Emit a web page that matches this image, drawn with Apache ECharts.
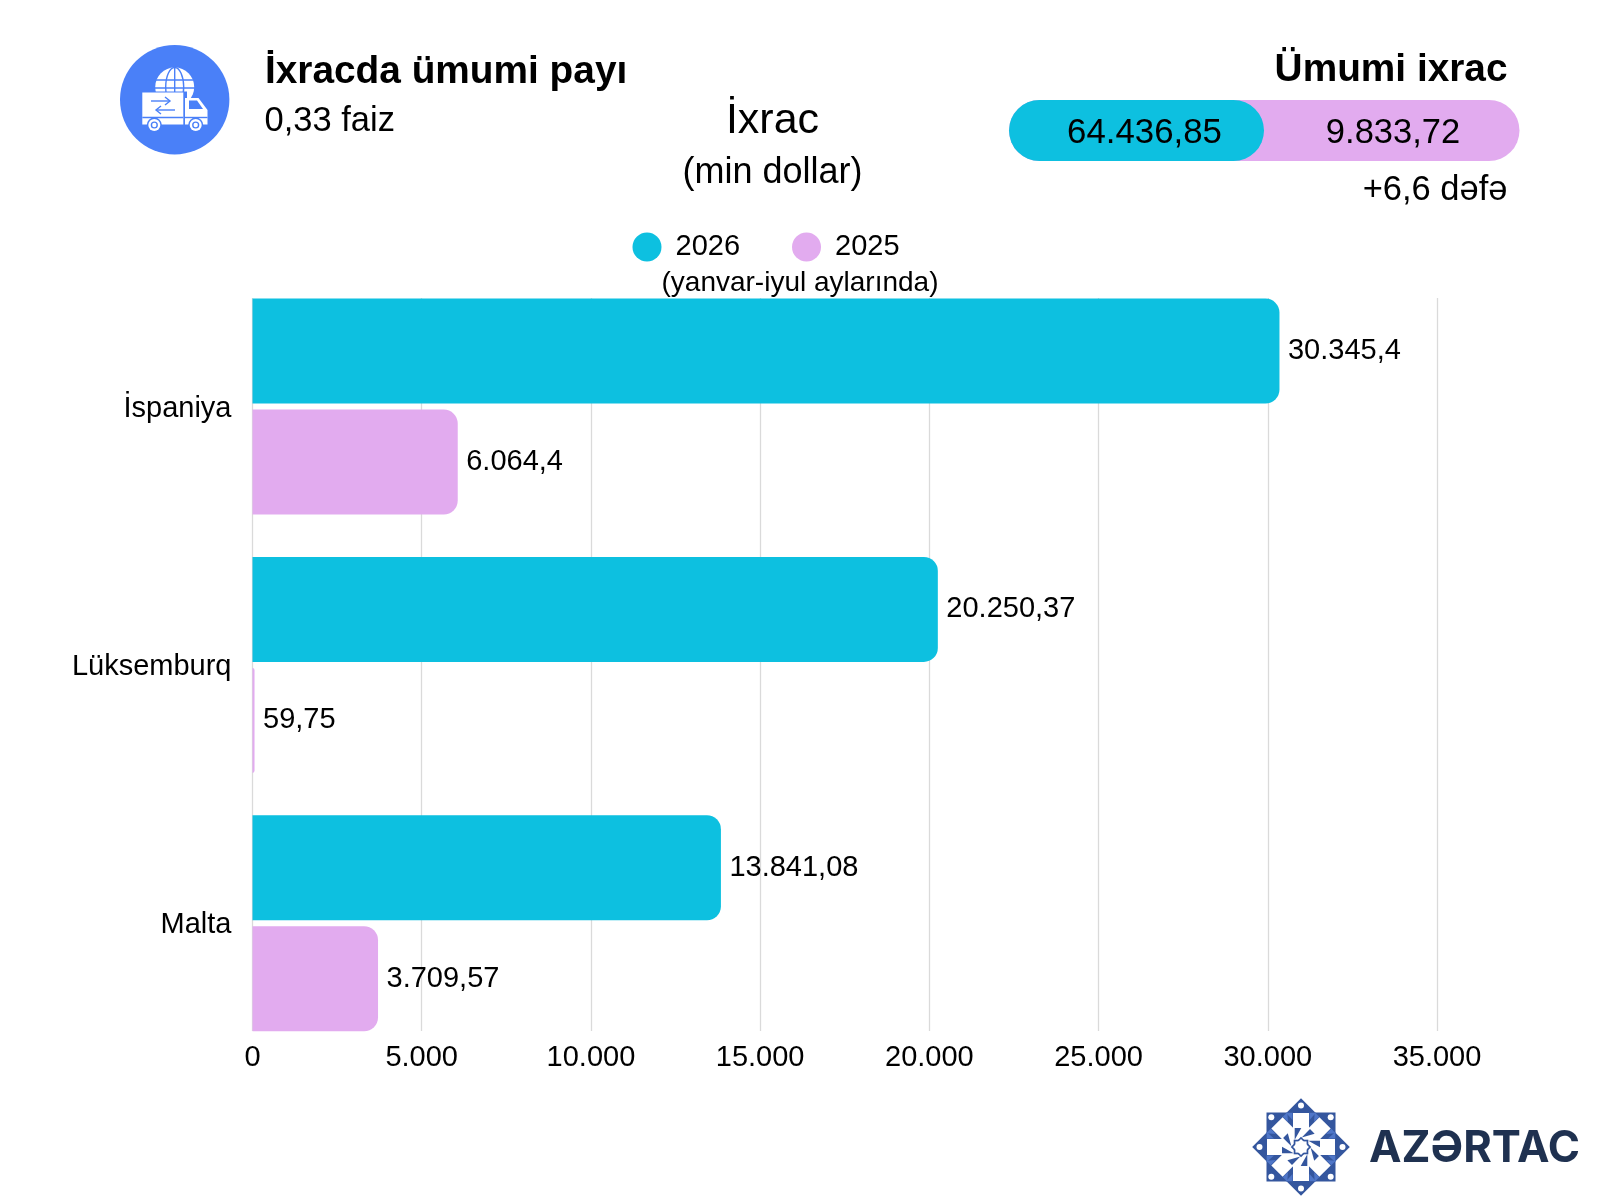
<!DOCTYPE html>
<html>
<head>
<meta charset="utf-8">
<style>html,body{margin:0;padding:0;background:#fff}#c{width:1600px;height:1200px}</style>
<script src="https://cdn.jsdelivr.net/npm/echarts@6/dist/echarts.min.js"></script>
</head>
<body>
<div id="c"></div>
<script>
const categories = ['İspaniya', 'Lüksemburq', 'Malta'];
const values2026 = [30345.4, 20250.37, 13841.08];
const values2025 = [6064.4, 59.75, 3709.57];
const seriesNames = ['2026', '2025'];
const totals = ['64.436,85', '9.833,72'];

const CYAN = '#0DC0E0', PINK = '#E2ABEF', BLUE = '#4A80F8', NAVY = '#34569E', LIGHT = '#4F76C8';
const FONT = '"Liberation Sans", Arial, sans-serif';

function fmt(v) {
  const p = String(v).split('.');
  const i = p[0].replace(/\B(?=(\d{3})+$)/g, '.');
  return p[1] ? i + ',' + p[1] : i;
}
function txt(text, x, y, size, align, weight) {
  return {type: 'text', x: x, y: y, z: 20, style: {text: text, fontFamily: FONT, fontSize: size, fontWeight: weight || 'normal',
    fill: '#000', align: align || 'left', verticalAlign: 'middle'}};
}
function poly(pts, fill, x, y, rot, z) {
  return {type: 'polygon', x: x || 0, y: y || 0, rotation: rot || 0, z: z || 10, shape: {points: pts}, style: {fill: fill}};
}
function circ(cx, cy, r, fill, z) {
  return {type: 'circle', z: z || 10, shape: {cx: cx, cy: cy, r: r}, style: {fill: fill}};
}
function box(x, y, w, h, fill, z, r) {
  return {type: 'rect', z: z || 10, shape: {x: x, y: y, width: w, height: h, r: r || 0}, style: {fill: fill}};
}
function line(pts, z) {
  return {type: 'polyline', z: z || 12, shape: {points: pts}, style: {stroke: BLUE, lineWidth: 1.4, fill: 'none'}};
}

/* icon */
const icon = [
  circ(174.7, 99.7, 54.7, BLUE, 8),
  circ(174.7, 87, 19.5, '#fff', 9),
  {type: 'ellipse', z: 10, shape: {cx: 174.7, cy: 87, rx: 9, ry: 19.5}, style: {fill: 'none', stroke: BLUE, lineWidth: 1.4}},
  line([[174.7, 67.5], [174.7, 106]], 10),
  line([[156, 80], [193, 80]], 10),
  line([[155, 88], [195, 88]], 10),
  box(141, 91.5, 46, 34, BLUE, 11),
  box(142.3, 92.5, 41, 32, '#fff', 12),
  poly([[185, 98], [198.5, 98], [207.5, 110], [207.5, 124.5], [185, 124.5]], '#fff', 0, 0, 0, 12),
  poly([[189, 100.5], [197, 100.5], [203, 109], [189, 109]], BLUE, 0, 0, 0, 13),
  line([[142.3, 117.5], [183.3, 117.5]], 13),
  line([[185, 117.5], [207.5, 117.5]], 13),
  line([[151, 101], [170, 101]], 13), line([[165, 97], [170, 101], [165, 105]], 13),
  line([[156, 110], [175, 110]], 13), line([[161, 106], [156, 110], [161, 114]], 13),
  circ(154.3, 125, 7.5, BLUE, 14), circ(154.3, 125, 6, '#fff', 15), circ(154.3, 125, 3.6, BLUE, 16), circ(154.3, 125, 2.2, '#fff', 17),
  circ(195.7, 125, 7.5, BLUE, 14), circ(195.7, 125, 6, '#fff', 15), circ(195.7, 125, 3.6, BLUE, 16), circ(195.7, 125, 2.2, '#fff', 17)
];

/* logo */
const LX = 1301, LY = 1147, Q = Math.PI / 4;
const logo = [
  box(LX - 34.5, LY - 34.5, 69, 69, NAVY, 8),
  {type: 'rect', x: LX, y: LY, rotation: Q, z: 8, shape: {x: -34.5, y: -34.5, width: 69, height: 69}, style: {fill: NAVY}}
];
for (let k = 0; k < 8; k++) {
  const a = k * Q;
  logo.push({type: 'rect', x: LX, y: LY, rotation: a, z: 10, shape: {x: -8, y: -34, width: 16, height: 24}, style: {fill: '#fff'}});
  logo.push(poly([[8.5, -34.3], [15, -34.3], [8.5, -27]], LIGHT, LX, LY, a, 10));
  logo.push(poly([[-8.5, -34.3], [-15, -34.3], [-8.5, -27]], LIGHT, LX, LY, a, 10));
  const d = k % 2 === 0 ? 41.5 : 42;
  logo.push(circ(LX + d * Math.sin(a), LY - d * Math.cos(a), 3, '#fff', 11));
}
logo.push(circ(LX, LY, 15, '#fff', 11));
for (let k = 0; k < 8; k++) {
  logo.push(poly([[-6.3, -19], [0.3, -19], [-6.3, -7.3]], NAVY, LX, LY, -k * Q, 12));
}
for (let k = 0; k < 2; k++) {
  logo.push({type: 'rect', x: LX, y: LY, rotation: k * Q, z: 13, shape: {x: -7.3, y: -7.3, width: 14.6, height: 14.6}, style: {fill: NAVY}});
  logo.push({type: 'rect', x: LX, y: LY, rotation: k * Q, z: 14, shape: {x: -5.6, y: -5.6, width: 11.2, height: 11.2}, style: {fill: '#fff'}});
}

const chart = echarts.init(document.getElementById('c'), null, {renderer: 'canvas'});
const barOpt = {type: 'bar', barWidth: 105, barGap: '5.7%', xAxisIndex: 0, yAxisIndex: 0,
  label: {show: true, position: 'right', distance: 8.5, color: '#000', fontFamily: FONT, fontSize: 29,
    formatter: p => fmt(p.value)}};
chart.setOption({
  animation: false,
  backgroundColor: '#fff',
  textStyle: {fontFamily: FONT},
  title: {text: 'İxrac', subtext: '(min dollar)', left: 767.5, top: 95, textAlign: 'center', itemGap: 12,
    textStyle: {fontFamily: FONT, fontSize: 43, fontWeight: 'normal', color: '#000'},
    subtextStyle: {fontFamily: FONT, fontSize: 36, color: '#000'}},
  legend: {data: seriesNames, left: 627.5, top: 227.5, icon: 'circle', itemWidth: 29, itemHeight: 29, itemGap: 52,
    selectedMode: false, textStyle: {fontFamily: FONT, fontSize: 29, color: '#000', padding: [1, 0, 0, 9]}},
  grid: [
    {left: 252.5, width: 1184.5, top: 277.4, height: 775},
    {left: 252.5, width: 1184.5, top: 298, height: 733},
    {left: 252.5, width: 1184.5, top: 279.5, height: 775}
  ],
  xAxis: [
    {gridIndex: 0, type: 'value', min: 0, max: 35000, interval: 5000, show: false},
    {gridIndex: 1, type: 'value', min: 0, max: 35000, interval: 5000,
      axisLine: {show: false}, axisTick: {show: false},
      splitLine: {show: true, lineStyle: {color: '#DADADA', width: 1.3}},
      axisLabel: {margin: 12, color: '#000', fontFamily: FONT, fontSize: 29, formatter: v => fmt(v), hideOverlap: false}},
    {gridIndex: 2, type: 'value', min: 0, max: 35000, interval: 5000, show: false}
  ],
  yAxis: [
    {gridIndex: 0, type: 'category', data: categories, inverse: true, show: false},
    {gridIndex: 1, type: 'category', data: categories, inverse: true, show: false},
    {gridIndex: 2, type: 'category', data: categories, inverse: true,
      axisLine: {show: false}, axisTick: {show: false}, splitLine: {show: false},
      axisLabel: {margin: 21, color: '#000', fontFamily: FONT, fontSize: 29}}
  ],
  series: [
    Object.assign({}, barOpt, {name: seriesNames[0], data: values2026, itemStyle: {color: CYAN, borderRadius: [0, 14, 14, 0]}}),
    Object.assign({}, barOpt, {name: seriesNames[1], data: values2025, itemStyle: {color: PINK, borderRadius: [0, 14, 14, 0]}})
  ],
  graphic: {elements: [
    ...icon,
    txt('İxracda ümumi payı', 265, 72, 38.8, 'left', 'bold'),
    txt('0,33 faiz', 264.5, 121, 34.5),
    txt('Ümumi ixrac', 1507.5, 70, 38.8, 'right', 'bold'),
    {type: 'rect', z: 8, shape: {x: 1009, y: 100, width: 510.5, height: 61, r: 30.5}, style: {fill: PINK}},
    {type: 'rect', z: 9, shape: {x: 1009, y: 100, width: 255, height: 61, r: 30.5}, style: {fill: CYAN}},
    txt(totals[0], 1144.5, 133, 34.8, 'center'),
    txt(totals[1], 1393, 133.5, 34.5, 'center'),
    txt('+6,6 dəfə', 1507.5, 190, 34.5, 'right'),
    txt('(yanvar-iyul aylarında)', 800, 283.5, 28, 'center'),
    ...logo,
    {type: 'text', x: 1369, y: 1149, z: 20, style: {text: 'AZƏRTAC', fontFamily: 'Inter, "Open Sans", sans-serif', fontSize: 43.6, fontWeight: 'bold',
      fill: '#1F3150', align: 'left', verticalAlign: 'middle'}}
  ]}
});
</script>
</body>
</html>
